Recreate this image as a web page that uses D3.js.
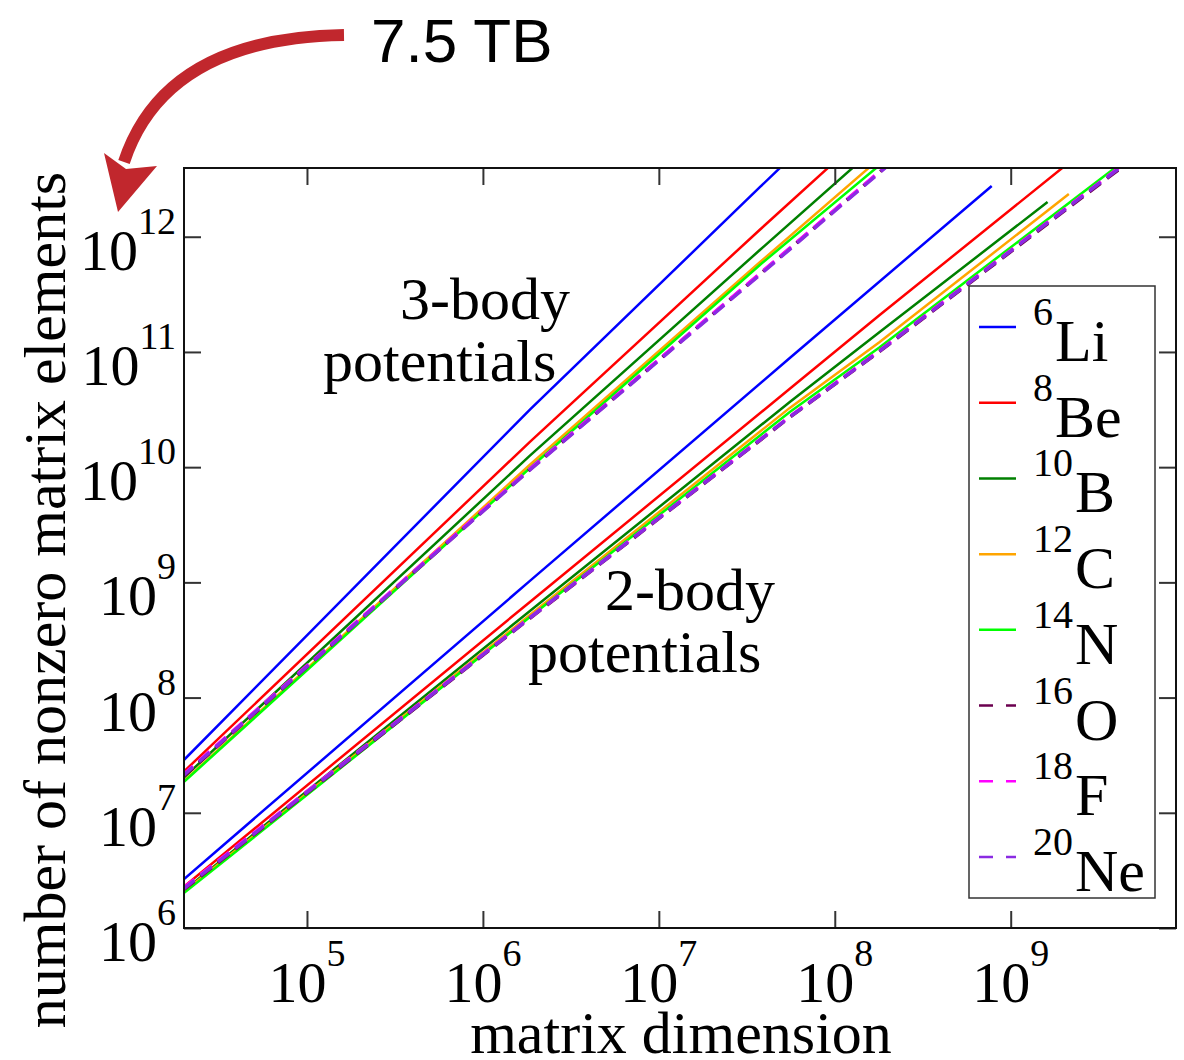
<!DOCTYPE html>
<html>
<head>
<meta charset="utf-8">
<script src="https://cdn.jsdelivr.net/npm/d3@7"></script>
<style>
  html, body { margin: 0; padding: 0; background: #fff; }
  svg { display: block; }
  .serif { font-family: "Liberation Serif", "Times New Roman", serif; fill: #000; }
</style>
</head>
<body>
<svg id="chart" width="1184" height="1060"></svg>
<script>
// Nuclei shown, with mass numbers used as superscripts in the legend
const nuclei = ["Li", "Be", "B", "C", "N", "O", "F", "Ne"];
const massNumbers = [6, 8, 10, 12, 14, 16, 18, 20];
const lineColors = ["#0000ff", "#ff0000", "#008000", "#ffa500", "#00ff00", "#6b004f", "#ff00ff", "#8a2be2"];
const dashed = [false, false, false, false, false, true, true, true];

// [matrix dimension, number of nonzero matrix elements] — 3-body potentials
const li6_3body  = [[1.58e4, 2.00e7], [1.85e6, 3.16e10], [3.75e7, 2.69e12], [6.30e7, 5.75e12]];
const be8_3body  = [[1.58e4, 1.62e7], [1.85e6, 1.66e10], [3.75e7, 1.15e12], [1.26e8, 6.17e12]];
const b10_3body  = [[1.58e4, 1.45e7], [1.85e6, 1.26e10], [3.75e7, 7.67e11], [1.78e8, 6.30e12]];
const c12_3body  = [[1.58e4, 1.36e7], [1.85e6, 1.05e10], [3.75e7, 6.00e11], [2.00e8, 5.50e12]];
const n14_3body  = [[1.58e4, 1.34e7], [1.85e6, 9.84e9],  [3.75e7, 5.69e11], [2.00e8, 4.79e12]];
const o16_3body  = [[1.58e4, 1.52e7], [1.85e6, 9.55e9],  [3.75e7, 4.73e11], [2.24e8, 4.85e12]];
const f18_3body  = [[1.58e4, 1.58e7], [1.85e6, 9.66e9],  [3.75e7, 4.79e11], [2.24e8, 4.90e12]];
const ne20_3body = [[1.58e4, 1.55e7], [1.85e6, 9.46e9],  [3.75e7, 4.66e11], [2.24e8, 4.79e12]];

// [matrix dimension, number of nonzero matrix elements] — 2-body potentials
const li6_2body  = [[1.58e4, 1.95e6], [1.85e6, 1.03e9], [5.55e7, 8.87e10], [7.80e8, 2.76e12]];
const be8_2body  = [[1.58e4, 1.70e6], [1.85e6, 6.76e8], [5.55e7, 4.79e10], [1.80e8, 2.09e11], [2.82e9, 6.17e12]];
const b10_2body  = [[1.58e4, 1.58e6], [1.85e6, 5.65e8], [5.55e7, 3.68e10], [1.80e8, 1.49e11], [1.62e9, 2.00e12]];
const c12_2body  = [[1.58e4, 1.55e6], [1.85e6, 5.21e8], [5.55e7, 3.27e10], [1.80e8, 1.22e11], [2.14e9, 2.35e12]];
const n14_2body  = [[1.58e4, 1.51e6], [1.85e6, 5.01e8], [5.55e7, 3.01e10], [1.80e8, 1.10e11], [5.62e9, 6.03e12]];
const o16_2body  = [[1.58e4, 1.63e6], [1.85e6, 4.87e8], [5.55e7, 2.71e10], [1.80e8, 1.01e11], [5.62e9, 5.50e12]];
const f18_2body  = [[1.58e4, 1.70e6], [1.85e6, 4.95e8], [5.55e7, 2.75e10], [1.80e8, 1.03e11], [5.62e9, 5.70e12]];
const ne20_2body = [[1.58e4, 1.66e6], [1.85e6, 4.91e8], [5.55e7, 2.73e10], [1.80e8, 1.02e11], [5.62e9, 5.62e12]];

const threeBody = [li6_3body, be8_3body, b10_3body, c12_3body, n14_3body, o16_3body, f18_3body, ne20_3body];
const twoBody   = [li6_2body, be8_2body, b10_2body, c12_2body, n14_2body, o16_2body, f18_2body, ne20_2body];

// Axis ticks (powers of ten)
const xTickExponents = [5, 6, 7, 8, 9];
const yTickExponents = [6, 7, 8, 9, 10, 11, 12];

const svg = d3.select("#chart");
const plot = { left: 184, right: 1176, top: 168, bottom: 928 };

const x = d3.scaleLog().domain([2e4, 8.7e9]).range([plot.left, plot.right]);
const y = d3.scaleLog().domain([1e6, 3.95e12]).range([plot.bottom, plot.top]);

svg.append("defs").append("clipPath").attr("id", "plotClip")
  .append("rect")
  .attr("x", plot.left).attr("y", plot.top)
  .attr("width", plot.right - plot.left).attr("height", plot.bottom - plot.top);

// Data lines
const line = d3.line().x(d => x(d[0])).y(d => y(d[1]));
const lines = svg.append("g").attr("clip-path", "url(#plotClip)");
[threeBody, twoBody].forEach(group => {
  // solid series first, dashed ones on top
  const order = d3.range(nuclei.length).sort((a, b) => (dashed[a] - dashed[b]) || (a - b));
  order.forEach(i => {
    lines.append("path")
      .attr("d", line(group[i]))
      .attr("fill", "none")
      .attr("stroke", lineColors[i])
      .attr("stroke-width", dashed[i] ? 3.4 : 2.5)
      .attr("stroke-dasharray", dashed[i] ? "14 8" : null);
  });
});

// Ticks on all four sides, pointing inward
const tickLen = 17;
const xTicks = xTickExponents.map(e => Math.pow(10, e));
const yTicks = yTickExponents.map(e => Math.pow(10, e));
function styleAxis(g) {
  g.select(".domain").remove();
  g.selectAll(".tick line").attr("stroke", "#333").attr("stroke-width", 2);
  g.selectAll(".tick text").remove();
}
svg.append("g").attr("transform", `translate(0,${plot.bottom})`)
  .call(d3.axisBottom(x).tickValues(xTicks).tickSize(-tickLen)).call(styleAxis);
svg.append("g").attr("transform", `translate(0,${plot.top})`)
  .call(d3.axisTop(x).tickValues(xTicks).tickSize(-tickLen)).call(styleAxis);
svg.append("g").attr("transform", `translate(${plot.left},0)`)
  .call(d3.axisLeft(y).tickValues(yTicks).tickSize(-tickLen)).call(styleAxis);
svg.append("g").attr("transform", `translate(${plot.right},0)`)
  .call(d3.axisRight(y).tickValues(yTicks).tickSize(-tickLen)).call(styleAxis);

// Frame
svg.append("rect")
  .attr("x", plot.left).attr("y", plot.top)
  .attr("width", plot.right - plot.left).attr("height", plot.bottom - plot.top)
  .attr("fill", "none").attr("stroke", "#111").attr("stroke-width", 2);

// Tick labels as 10^n
const baseSize = 58, expSize = 38, expRise = 36;
xTickExponents.forEach(e => {
  const t = svg.append("text").attr("class", "serif")
    .attr("x", x(Math.pow(10, e))).attr("y", plot.bottom + 74)
    .attr("text-anchor", "middle").attr("font-size", baseSize);
  t.append("tspan").text("10");
  t.append("tspan").attr("dy", -expRise).attr("font-size", expSize).text(e);
});
yTickExponents.forEach(e => {
  const t = svg.append("text").attr("class", "serif")
    .attr("x", 176).attr("y", y(Math.pow(10, e)) + 33)
    .attr("text-anchor", "end").attr("font-size", baseSize);
  t.append("tspan").text("10");
  t.append("tspan").attr("dy", -expRise).attr("font-size", expSize).text(e);
});

// Axis titles
svg.append("text").attr("class", "serif")
  .attr("x", 681).attr("y", 1053).attr("text-anchor", "middle")
  .attr("font-size", 60).text("matrix dimension");
svg.append("text").attr("class", "serif")
  .attr("transform", "translate(65,600) rotate(-90)")
  .attr("text-anchor", "middle").attr("font-size", 60)
  .text("number of nonzero matrix elements");

// Group annotations
const notes = [
  { text: "3-body", x: 400, y: 319 },
  { text: "potentials", x: 323, y: 381 },
  { text: "2-body", x: 605, y: 610 },
  { text: "potentials", x: 528, y: 672 }
];
notes.forEach(n => {
  svg.append("text").attr("class", "serif")
    .attr("x", n.x).attr("y", n.y).attr("font-size", 60).text(n.text);
});

// Legend
const legend = svg.append("g");
legend.append("rect")
  .attr("x", 969).attr("y", 286).attr("width", 186).attr("height", 612)
  .attr("fill", "#fff").attr("stroke", "#333").attr("stroke-width", 1.5);
const legendRow = d3.scaleLinear().domain([0, nuclei.length - 1]).range([327, 857]);
nuclei.forEach((name, i) => {
  const ly = legendRow(i);
  legend.append("line")
    .attr("x1", 979).attr("x2", 1016).attr("y1", ly).attr("y2", ly)
    .attr("stroke", lineColors[i]).attr("stroke-width", 2.5)
    .attr("stroke-dasharray", dashed[i] ? "14 13" : null);
  const t = legend.append("text").attr("class", "serif")
    .attr("x", 1033).attr("y", ly - 2).attr("font-size", expSize + 2);
  t.append("tspan").text(massNumbers[i]);
  t.append("tspan").attr("dy", 36).attr("dx", 2).attr("font-size", 60).text(name);
});

// Storage annotation with curved arrow
svg.append("text")
  .attr("x", 371).attr("y", 62)
  .attr("font-family", "Liberation Sans, Arial, sans-serif")
  .attr("font-size", 62).attr("fill", "#000").text("7.5 TB");
svg.append("path")
  .attr("d", "M344,35 Q165,38 124,162")
  .attr("fill", "none").attr("stroke", "#c1272d").attr("stroke-width", 12);
svg.append("path")
  .attr("d", "M118,212 L104,153 L126,169 L157,166 Z")
  .attr("fill", "#c1272d");
</script>
</body>
</html>
